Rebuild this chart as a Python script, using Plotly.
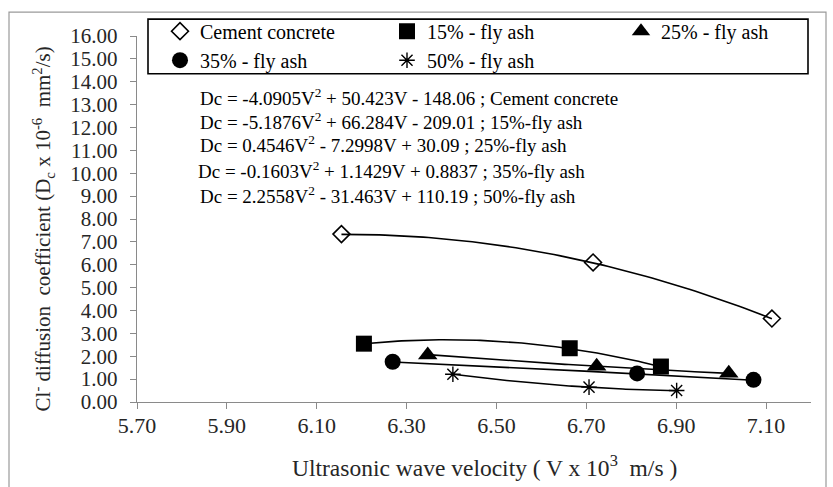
import numpy as np
import plotly.graph_objects as go

# ---- data -------------------------------------------------------------
series_names = ["Cement concrete", "15% - fly ash", "25% - fly ash",
                "35% - fly ash", "50% - fly ash"]

# ultrasonic pulse velocity (V x 10^3 m/s) and chloride diffusion coefficient
v_cement = [6.155, 6.715, 7.113]
dc_cement = [7.34, 6.10, 3.65]
v_fa15 = [6.205, 6.663, 6.866]
dc_fa15 = [2.55, 2.35, 1.55]
v_fa25 = [6.347, 6.723, 7.017]
dc_fa25 = [2.05, 1.56, 1.26]
v_fa35 = [6.269, 6.813, 7.072]
dc_fa35 = [1.76, 1.25, 0.97]
v_fa50 = [6.403, 6.706, 6.901]
dc_fa50 = [1.21, 0.65, 0.50]

# quadratic trend lines: Dc = a*V^2 + b*V + c
coef_cement = (-4.0905, 50.423, -148.06)
coef_fa15 = (-5.1876, 66.284, -209.01)
coef_fa25 = (0.4546, -7.2998, 30.09)
coef_fa35 = (-0.1603, 1.1429, 0.8837)
coef_fa50 = (2.2558, -31.463, 110.19)

equation_labels = [
    "Dc = -4.0905V<sup>2</sup> + 50.423V - 148.06 ; Cement concrete",
    "Dc = -5.1876V<sup>2</sup> + 66.284V - 209.01 ; 15%-fly ash",
    "Dc = 0.4546V<sup>2</sup> - 7.2998V + 30.09 ; 25%-fly ash",
    "Dc = -0.1603V<sup>2</sup> + 1.1429V + 0.8837 ; 35%-fly ash",
    "Dc = 2.2558V<sup>2</sup> - 31.463V + 110.19 ; 50%-fly ash",
]

x_tick_vals = [5.70, 5.90, 6.10, 6.30, 6.50, 6.70, 6.90, 7.10]
y_tick_vals = list(range(0, 17))

# ---- layout geometry --------------------------------------------------
W, H = 833, 487
ML, MR, MT, MB = 137, 22, 33, 85
PW, PH = W - ML - MR, H - MT - MB
FONT = "Liberation Serif, Times New Roman, serif"
AXIS_GREY = "#8a8a8a"
TEXT = "#262626"


def px_x(px):
    return (px - ML) / PW


def px_y(py):
    return (H - MB - py) / PH


fig = go.Figure()

# legend column each series is listed in (three columns, two rows)
legend_ids = ["legend", "legend2", "legend3", "legend", "legend2"]

series = [
    (v_cement, dc_cement, coef_cement,
     dict(symbol="diamond-open", size=13, color="black", line=dict(width=1.6, color="black"))),
    (v_fa15, dc_fa15, coef_fa15,
     dict(symbol="square", size=16, color="black")),
    (v_fa25, dc_fa25, coef_fa25,
     dict(symbol="triangle-up", size=17, color="black")),
    (v_fa35, dc_fa35, coef_fa35,
     dict(symbol="circle", size=16, color="black")),
    (v_fa50, dc_fa50, coef_fa50,
     dict(symbol="asterisk-open", size=13, color="black", line=dict(width=1.4, color="black"))),
]

# trend curves under the markers
for v, dc, (a, b, c), _ in series:
    vv = np.linspace(min(v), max(v), 80)
    fig.add_trace(go.Scatter(
        x=vv, y=a * vv ** 2 + b * vv + c, mode="lines",
        line=dict(color="black", width=1.6), showlegend=False, hoverinfo="skip"))

for name, lg, (v, dc, _, marker) in zip(series_names, legend_ids, series):
    fig.add_trace(go.Scatter(x=v, y=dc, mode="markers", name=name,
                             marker=marker, legend=lg))

annotations = []
eq_y = [95, 118.5, 142, 168, 193]
eq_x = [198, 198, 198, 196, 198]
for txt, ex, ey in zip(equation_labels, eq_x, eq_y):
    annotations.append(dict(
        text=txt, xref="paper", yref="paper", x=px_x(ex), y=px_y(ey),
        xanchor="left", yanchor="middle", showarrow=False,
        font=dict(family=FONT, size=19, color="black")))

annotations.append(dict(
    text="Ultrasonic wave velocity ( V x 10<sup>3</sup>  m/s )",
    xref="paper", yref="paper", x=px_x(485), y=px_y(467),
    xanchor="center", yanchor="middle", showarrow=False,
    font=dict(family=FONT, size=23.5, color=TEXT)))

annotations.append(dict(
    text="Cl<sup>-</sup> diffusion  coefficient (D<sub>c</sub> x 10<sup>-6</sup>  mm<sup>2</sup>/s)",
    xref="paper", yref="paper", x=px_x(43), y=px_y(228), textangle=-90,
    xanchor="center", yanchor="middle", showarrow=False,
    font=dict(family=FONT, size=21, color=TEXT)))

shapes = [
    # outer chart frame
    dict(type="rect", xref="paper", yref="paper",
         x0=px_x(9), x1=px_x(826), y0=px_y(9), y1=px_y(500),
         line=dict(color="#9a9a9a", width=1.2)),
    # legend frame
    dict(type="rect", xref="paper", yref="paper",
         x0=px_x(148), x1=px_x(808), y0=px_y(16), y1=px_y(71),
         line=dict(color="black", width=1.6), fillcolor="white", layer="below"),
]


def legend_column(left_px):
    return dict(
        orientation="v", x=px_x(left_px), y=px_y(8.5), xanchor="left", yanchor="top",
        itemwidth=30, bgcolor="rgba(0,0,0,0)", borderwidth=0,
        font=dict(family=FONT, size=20, color="black"))


fig.update_layout(
    width=W, height=H,
    margin=dict(l=ML, r=MR, t=MT, b=MB),
    paper_bgcolor="white", plot_bgcolor="white",
    font=dict(family=FONT, color=TEXT),
    showlegend=True,
    legend=legend_column(160),
    legend2=legend_column(387),
    legend3=legend_column(621),
    xaxis=dict(
        range=[5.70, 7.20], tickvals=x_tick_vals, tickformat=".2f",
        showgrid=False, zeroline=False, showline=True,
        linecolor=AXIS_GREY, linewidth=1.4,
        ticks="outside", ticklen=6, tickcolor=AXIS_GREY, tickwidth=1.4,
        ticklabelstandoff=-3,
        tickfont=dict(family=FONT, size=22, color=TEXT)),
    yaxis=dict(
        range=[0, 16], tickvals=y_tick_vals, tickformat=".2f",
        showgrid=False, zeroline=False, showline=True,
        linecolor=AXIS_GREY, linewidth=1.4,
        ticks="outside", ticklen=6, tickcolor=AXIS_GREY, tickwidth=1.4,
        ticklabelstandoff=8,
        tickfont=dict(family=FONT, size=21, color=TEXT)),
    annotations=annotations,
    shapes=shapes,
)

fig.write_html("out.html")
